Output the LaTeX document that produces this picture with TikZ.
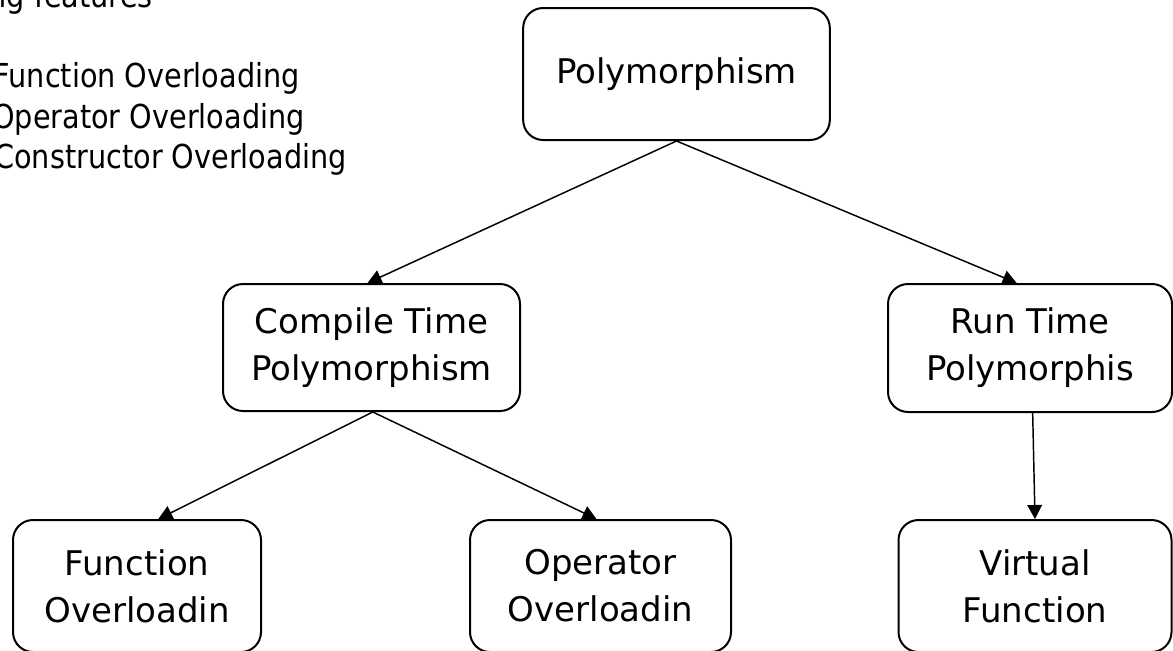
\documentclass[tikz,border=0pt]{standalone}
\usepackage{fontspec}
\setmainfont{DejaVu Sans}
\newfontfamily\listfont[FakeStretch=0.87]{DejaVu Sans}
\usetikzlibrary{arrows.meta}

\begin{document}
\begin{tikzpicture}[x=0.75pt,y=-0.75pt]
	\clip (0,0) rectangle (1173,650);
	
	\begin{scope}[every node/.style={anchor=base east,inner sep=0pt,font=\listfont\fontsize{24.75pt}{30pt}\selectfont}]
		\node (ngfeat) at (153,7) {ng features};
		\node (lfunc) at (300,87) {Function Overloading};
		\node (lop) at (305,128) {Operator Overloading};
		\node (lcons) at (347,168) {Constructor Overloading};
	\end{scope}
	
	\begin{scope}[every node/.style={draw,line width=1.5pt,rounded corners=15pt,inner sep=0pt,align=center,font=\fontsize{25.5pt}{35.25pt}\selectfont}]
		\node [minimum width=230pt,minimum height=99pt] (poly) at (676.5,74) {Polymorphism};
		\node [minimum width=222.75pt,minimum height=95.25pt] (compile) at (371.5,347.5) {Compile Time\\Polymorphism};
		\node [minimum width=213pt,minimum height=96pt] (run) at (1030,348) {Run Time\\Polymorphis};
		\node [minimum width=186pt,minimum height=99pt] (func) at (137,586) {Function\\Overloadin};
		\node [minimum width=195.75pt,minimum height=99pt] (op) at (600.5,586) {Operator\\Overloadin};
		\node [minimum width=204.75pt,minimum height=99pt] (virt) at (1035,586) {Virtual\\Function};
	\end{scope}
	
	\begin{scope}[every edge/.style={draw=black,line width=1.1pt},>={Triangle[length=10.5pt,width=11pt]}]
		\path [->] (poly.south) edge ([xshift=-3pt]compile.north);
		\path [->] (poly.south) edge ([xshift=-10pt]run.north);
		\path [->] ([xshift=1pt]compile.south) edge ([xshift=16pt]func.north);
		\path [->] ([xshift=1pt]compile.south) edge ([xshift=-3pt]op.north);
		\path [->] ([xshift=2pt]run.south) edge (virt.north);
	\end{scope}
\end{tikzpicture}
\end{document}
